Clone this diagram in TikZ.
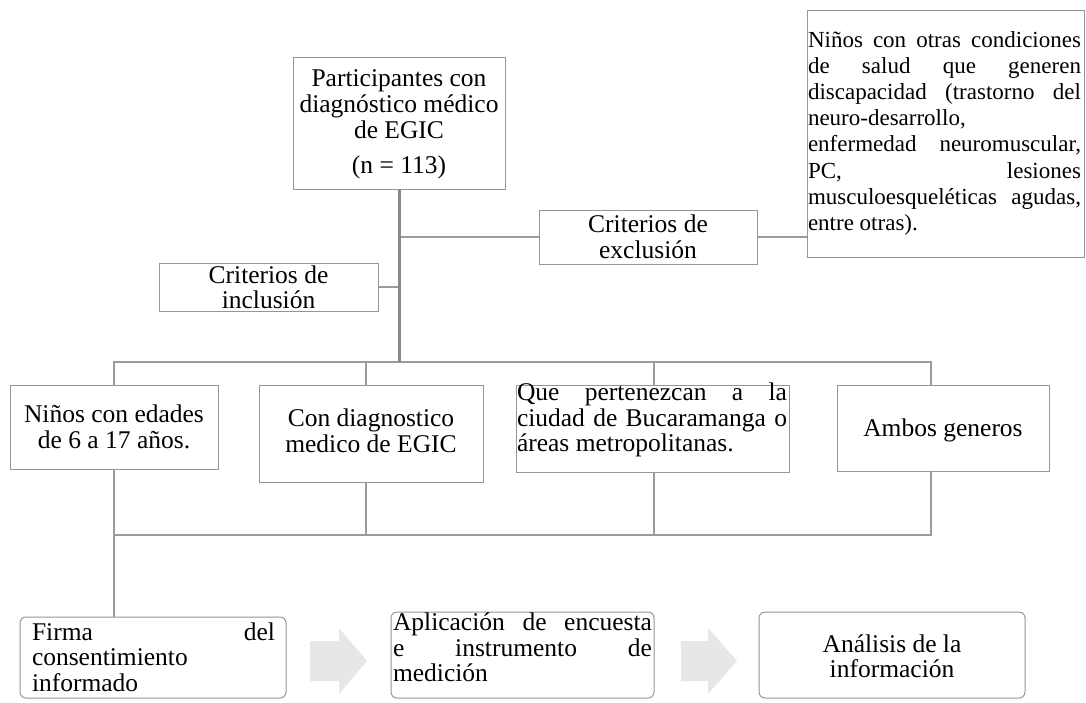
\documentclass[tikz,border=0pt]{standalone}
\usepackage{fontspec}
\setmainfont{Liberation Serif}
\definecolor{boxline}{RGB}{150,150,150}
\definecolor{conline}{RGB}{155,155,155}
\definecolor{trunkline}{RGB}{138,138,138}
\definecolor{arrowfill}{RGB}{231,231,231}
\newcommand{\bxt}[3]{\parbox[c][#2][t]{#1}{#3}}
\newcommand{\jl}[2]{\makebox[#1][s]{#2}}
\newcommand{\fs}[2]{\fontsize{#1pt}{#2pt}\selectfont}
\tikzset{
  box/.style={draw=boxline, line width=1pt, inner sep=0pt, outer sep=0pt, fill=white},
  roundbox/.style={box, rounded corners=6pt},
  conn/.style={draw=conline, line width=2pt},
  trunk/.style={draw=trunkline, line width=3pt},
  blockarrow/.style={fill=arrowfill, draw=none},
}
\begin{document}
\begin{tikzpicture}[x=1pt,y=-1pt]
\useasboundingbox[fill=white] (0,0) rectangle (1086,702);

% top box
\node[box] (top) at (399,123) {\bxt{212pt}{132pt}{\centering\fs{25.5}{26}\rule{0pt}{29pt}Participantes con\\diagnóstico médico\\de EGIC\\[9pt](n = 113)}};
% exclusion
\node[box] (excl) at (648,237) {\bxt{218pt}{54pt}{\centering\fs{25.5}{26.5}\rule{0pt}{22pt}Criterios de\\exclusión}};
% right text box
\node[box] (rbox) at (945.5,133.5) {\bxt{277pt}{247pt}{\leftskip=1pt\fs{23}{26.2}\rule{0pt}{37pt}\jl{273pt}{Niños con otras condiciones}\\
\jl{273pt}{de salud que generen}\\
\jl{273pt}{discapacidad (trastorno del}\\
neuro-desarrollo,\\
\jl{273pt}{enfermedad neuromuscular,}\\
\jl{273pt}{PC, lesiones}\\
\jl{273pt}{musculoesqueléticas agudas,}\\
entre otras).}};
% inclusion
\node[box] (incl) at (268.5,287) {\bxt{219pt}{48pt}{\centering\fs{25.5}{25}\rule{0pt}{20pt}Criterios de\\inclusión}};

% criteria boxes
\node[box] (b1) at (114,427) {\bxt{208pt}{84pt}{\centering\fs{25.5}{26.4}\rule{0pt}{37.5pt}Niños con edades\\de 6 a 17 años.}};
\node[box] (b2) at (371,433.5) {\bxt{224pt}{97pt}{\centering\fs{25.5}{26.4}\rule{0pt}{41pt}Con diagnostico\\medico de EGIC}};
\node[box] (b3) at (652.5,428.5) {\bxt{273pt}{87pt}{\leftskip=1pt\fs{25.5}{25.6}\vspace*{-2pt}\jl{270pt}{Que pertenezcan a la}\\
\jl{270pt}{ciudad de Bucaramanga o}\\
áreas metropolitanas.}};
\node[box] (b4) at (943,428) {\bxt{212pt}{86pt}{\centering\fs{25.5}{26}\rule{0pt}{51.5pt}Ambos generos}};

% bottom steps
\node[roundbox] (s1) at (153,657.5) {\bxt{266pt}{81pt}{\leftskip=12pt\fs{25.5}{25.5}\rule{0pt}{23pt}\jl{243pt}{Firma del}\\
consentimiento\\
informado}};
\node[roundbox] (s2) at (522.5,655) {\bxt{263pt}{86pt}{\leftskip=2pt\fs{25.5}{25.5}\rule{0pt}{18.5pt}\jl{259pt}{Aplicación de encuesta}\\
\jl{259pt}{e instrumento de}\\
medición}};
\node[roundbox] (s3) at (892,655) {\bxt{266pt}{86pt}{\centering\fs{25.5}{25}\rule{0pt}{40pt}Análisis de la\\información}};

% block arrows
\fill[blockarrow] (310,641) -- (339,641) -- (339,628) -- (367,661) -- (339,694) -- (339,681) -- (310,681) -- cycle;
\fill[blockarrow] (681,641) -- (708,641) -- (708,628) -- (737,661) -- (708,694) -- (708,681) -- (681,681) -- cycle;

% connectors
\coordinate (j1) at (399,362);
\coordinate (bR) at (931,362);
\coordinate (v2) at (366,362);
\coordinate (v3) at (654,362);
\coordinate (cL) at (114,535);
\coordinate (cR) at (931,535);
\coordinate (w2) at (366,535);
\coordinate (w3) at (654,535);

\draw[conn] (incl.east) -- (incl.east -| top.south);
\draw[conn] (excl.west -| top.south) -- (excl.west);
\draw[conn] (excl.east) -- (rbox.west |- excl.east);
\draw[conn] (b1.north) |- (bR) -- (bR |- b4.north);
\draw[conn] (v2) -- (v2 |- b2.north);
\draw[conn] (v3) -- (v3 |- b3.north);
\draw[trunk] (top.south) -- (j1);

\draw[conn] (b1.south) -- (b1.south |- s1.north);
\draw[conn] (cR |- b4.south) |- (cL);
\draw[conn] (w2 |- b2.south) -- (w2);
\draw[conn] (w3 |- b3.south) -- (w3);
\end{tikzpicture}
\end{document}
